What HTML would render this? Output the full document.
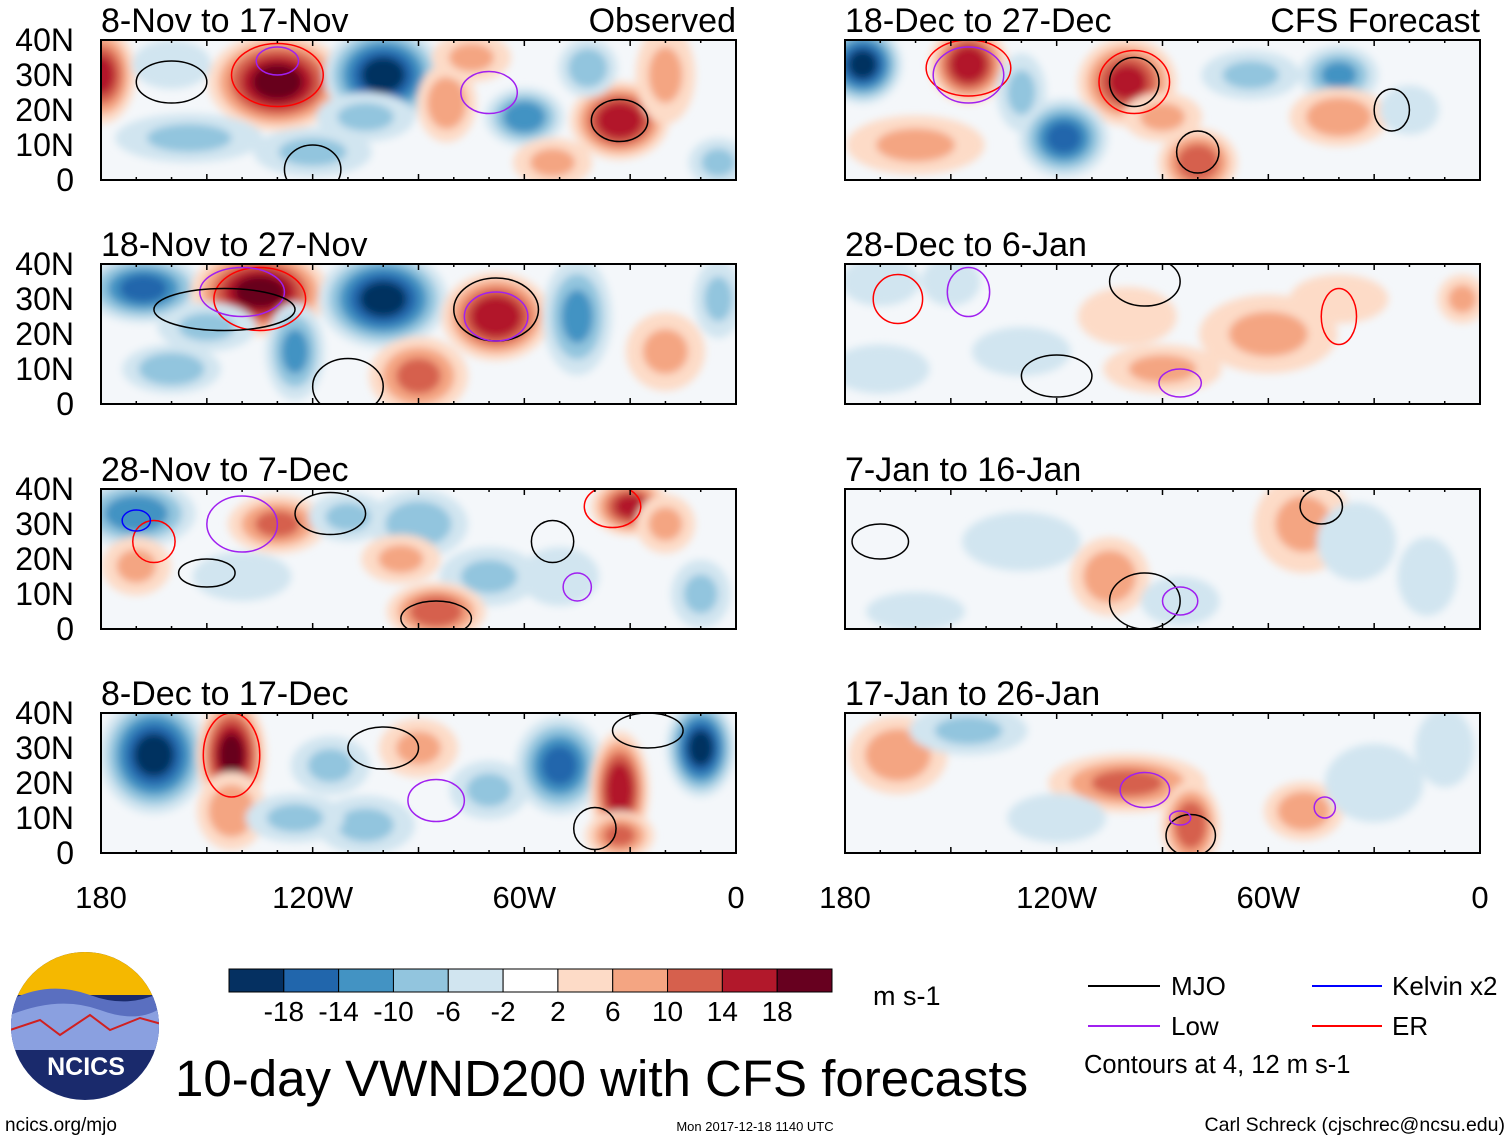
<!DOCTYPE html>
<html><head><meta charset="utf-8"><style>
body{margin:0;background:#fff;width:1510px;height:1141px;overflow:hidden;font-family:"Liberation Sans",sans-serif}
svg text{font-family:"Liberation Sans",sans-serif}
</style></head><body>
<svg id="fig" width="1510" height="1141" viewBox="0 0 1510 1141" xmlns="http://www.w3.org/2000/svg">
<defs><filter id="blur" x="-50%" y="-50%" width="200%" height="200%"><feGaussianBlur stdDeviation="4"/></filter></defs>
<g id="panels"></g>
<g id="cbar"></g>
<text x="873" y="1005" font-size="27">m s-1</text>
<g>
<line x1="1088" y1="986" x2="1160" y2="986" stroke="#000" stroke-width="2"/><text x="1171" y="995" font-size="26">MJO</text>
<line x1="1088" y1="1026" x2="1160" y2="1026" stroke="#a020f0" stroke-width="2"/><text x="1171" y="1035" font-size="26">Low</text>
<line x1="1312" y1="986" x2="1382" y2="986" stroke="#0000ff" stroke-width="2"/><text x="1392" y="995" font-size="26">Kelvin x2</text>
<line x1="1312" y1="1026" x2="1382" y2="1026" stroke="#ff0000" stroke-width="2"/><text x="1392" y="1035" font-size="26">ER</text>
<text x="1084" y="1073" font-size="25.5">Contours at 4, 12 m s-1</text>
</g>
<g>
<clipPath id="lc"><circle cx="85" cy="1026" r="74"/></clipPath>
<g clip-path="url(#lc)">
<rect x="0" y="950" width="170" height="160" fill="#1a2a6c"/>
<rect x="0" y="950" width="170" height="45" fill="#f5b800"/>
<path d="M10 1000 Q50 980 90 995 T165 990 L165 1040 L10 1040Z" fill="#5a6fc0"/>
<path d="M10 1015 Q60 995 100 1010 T165 1005 L165 1050 L10 1050Z" fill="#8aa0e0"/>
<path d="M10 1030 L40 1020 L60 1035 L90 1015 L110 1030 L140 1018 L165 1025" fill="none" stroke="#d02020" stroke-width="2"/>
</g>
<text x="86" y="1075" font-size="25" font-weight="bold" fill="#fff" text-anchor="middle">NCICS</text>
</g>
<text x="175" y="1096" font-size="51">10-day VWND200 with CFS forecasts</text>
<text x="5" y="1131" font-size="19">ncics.org/mjo</text>
<text x="755" y="1131" font-size="13" text-anchor="middle">Mon 2017-12-18 1140 UTC</text>
<text x="1505" y="1131" font-size="19.5" text-anchor="end">Carl Schreck (cjschrec@ncsu.edu)</text>
</svg>
<script>
const NS="http://www.w3.org/2000/svg";
const levels=[-18,-14,-10,-6,-2,2,6,10,14,18];
const colors=["#053061","#2166ac","#4393c3","#92c5de","#d1e5f0","#ffffff","#fddbc7","#f4a582","#d6604d","#b2182b","#67001f"];
const cbarLabels=["-18","-14","-10","-6","-2","2","6","10","14","18"];
const panelTitles=["8-Nov to 17-Nov","18-Nov to 27-Nov","28-Nov to 7-Dec","8-Dec to 17-Dec","18-Dec to 27-Dec","28-Dec to 6-Jan","7-Jan to 16-Jan","17-Jan to 26-Jan"];
const latTicks=[40,30,20,10,0];
const latLabels=["40N","30N","20N","10N","0"];
const lonTicks=[-180,-120,-60,0];
const lonLabels=["180","120W","60W","0"];
// blobs: [lon, lat, value, rxDeg, ryDeg]
const blobs0=[[-180,30,14,7,10],[-130,28,18,14,10],[-100,30,-18,12,10],[-105,18,-6,10,5],[-82,22,8,6,8],[-75,35,6,8,5],[-60,18,-12,8,6],[-33,17,16,10,8],[-42,32,-8,6,6],[-155,12,-6,15,5],[-120,8,-6,12,5],[-52,5,6,8,5],[-20,30,6,6,10],[-5,5,-6,6,5],[-160,33,-4,8,5]];
const blobs1=[[-168,33,-14,12,7],[-135,32,18,14,9],[-100,30,-18,13,10],[-68,25,16,11,9],[-45,25,-10,7,12],[-150,22,-6,10,5],[-125,15,-10,6,10],[-160,10,-8,10,5],[-90,8,10,10,8],[-20,15,6,8,8],[-5,30,-6,5,8]];
const blobs2=[[-170,33,-12,12,7],[-130,30,10,10,6],[-110,32,-6,8,5],[-90,30,-8,10,7],[-30,35,14,8,6],[-170,18,6,7,6],[-140,15,-4,10,5],[-95,20,6,8,5],[-70,15,-6,10,6],[-85,5,12,10,6],[-50,15,-4,8,6],[-10,10,-6,6,7],[-20,30,6,6,6]];
const blobs3=[[-165,28,-18,11,12],[-143,28,18,7,12],[-143,12,8,7,8],[-115,25,-6,8,6],[-105,8,-6,10,6],[-90,30,6,8,6],[-70,18,-6,8,6],[-50,25,-14,9,10],[-33,18,16,6,12],[-33,5,10,7,5],[-10,30,-18,7,10],[-125,10,-6,10,5]];
const blobs4=[[-175,33,-18,8,8],[-145,33,16,8,8],[-130,25,-6,5,8],[-100,28,14,10,9],[-118,12,-14,9,8],[-80,5,12,8,7],[-65,30,-6,10,5],[-40,30,-10,8,6],[-40,18,8,10,6],[-20,20,-4,6,5],[-160,10,6,14,6],[-90,18,6,8,5]];
const blobs5=[[-170,35,-4,8,5],[-150,35,-2,6,5],[-100,25,4,10,6],[-60,20,6,14,8],[-40,30,4,10,5],[-130,15,-2,10,5],[-90,10,6,12,5],[-5,30,6,5,5],[-170,10,-2,10,5]];
const blobs6=[[-130,25,-2,12,6],[-105,15,8,8,8],[-85,8,-2,8,5],[-50,30,6,10,10],[-160,5,-2,10,4],[-35,25,-2,8,8],[-15,15,-4,6,8]];
const blobs7=[[-165,28,8,10,8],[-145,35,-6,12,5],[-100,20,10,16,6],[-82,8,12,6,9],[-50,12,8,8,6],[-30,20,-2,10,8],[-120,10,-2,10,5],[-10,30,-4,6,8]];
const allBlobs=[blobs0,blobs1,blobs2,blobs3,blobs4,blobs5,blobs6,blobs7];
// contours: [lon, lat, rxDeg, ryDeg, type]
const cont0=[[-130,30,13,9,"er"],[-130,34,6,4,"low"],[-160,28,10,6,"mjo"],[-33,17,8,6,"mjo"],[-120,3,8,7,"mjo"],[-70,25,8,6,"low"]];
const cont1=[[-135,30,13,9,"er"],[-140,32,12,7,"low"],[-145,27,20,6,"mjo"],[-68,27,12,9,"mjo"],[-68,25,9,7,"low"],[-110,5,10,8,"mjo"]];
const cont2=[[-140,30,10,8,"low"],[-115,33,10,6,"mjo"],[-165,25,6,6,"er"],[-170,31,4,3,"kelvin"],[-150,16,8,4,"mjo"],[-52,25,6,6,"mjo"],[-85,3,10,5,"mjo"],[-35,35,8,6,"er"],[-45,12,4,4,"low"]];
const cont3=[[-143,28,8,12,"er"],[-100,30,10,6,"mjo"],[-40,7,6,6,"mjo"],[-25,35,10,5,"mjo"],[-85,15,8,6,"low"]];
const cont4=[[-145,32,12,8,"er"],[-145,30,10,8,"low"],[-98,28,10,9,"er"],[-98,28,7,7,"mjo"],[-25,20,5,6,"mjo"],[-80,8,6,6,"mjo"]];
const cont5=[[-165,30,7,7,"er"],[-145,32,6,7,"low"],[-120,8,10,6,"mjo"],[-95,35,10,7,"mjo"],[-40,25,5,8,"er"],[-85,6,6,4,"low"]];
const cont6=[[-170,25,8,5,"mjo"],[-95,8,10,8,"mjo"],[-45,35,6,5,"mjo"],[-85,8,5,4,"low"]];
const cont7=[[-95,18,7,5,"low"],[-82,5,7,6,"mjo"],[-44,13,3,3,"low"],[-85,10,3,2,"low"]];
const allCont=[cont0,cont1,cont2,cont3,cont4,cont5,cont6,cont7];
const strokeCol={mjo:"#000",low:"#a020f0",er:"#ff0000",kelvin:"#0000ff"};
const panelBox=[[101,40],[101,264],[101,489],[101,713],[845,40],[845,264],[845,489],[845,713]];
const PW=635,PH=140;
function colorOf(v){let i=0;while(i<levels.length&&v>levels[i])i++;return colors[i];}
const root=document.getElementById('panels');
function mk(tag,attrs,parent){const e=document.createElementNS(NS,tag);for(const k in attrs)e.setAttribute(k,attrs[k]);parent.appendChild(e);return e;}
panelBox.forEach((b,p)=>{
  const [x0,y0]=b;
  const xs=lon=>x0+(lon+180)/180*PW, ys=lat=>y0+PH-lat/40*PH;
  const g=mk('g',{},root);
  
  
  const clip=mk('clipPath',{id:'c'+p},g);
  mk('rect',{x:x0,y:y0,width:PW,height:PH},clip);
  const cg=mk('g',{'clip-path':'url(#c'+p+')'},g);
  mk('rect',{x:x0,y:y0,width:PW,height:PH,fill:'#f4f7fa'},cg);
  const fg=mk('g',{filter:'url(#blur)'},cg);
  allBlobs[p].forEach(bl=>{
    const [lon,lat,v,rx,ry]=bl;
    const sgn=Math.sign(v), a=Math.abs(v);
    const steps=[];
    for(let t=2;t<=a+0.1;t+=4)steps.push(t);
    steps.forEach(t=>{
      const f=1.4*(1-0.75*(t-2)/(a+1));
      const e=mk('ellipse',{cx:xs(lon),cy:ys(lat),rx:rx*PW/180*f,ry:ry*PH/40*f,fill:colorOf(sgn*(t+1))},fg);
      
      
    });
  });
  allCont[p].forEach(c=>{
    const e=mk('ellipse',{cx:xs(c[0]),cy:ys(c[1]),rx:c[2]*PW/180,ry:c[3]*PH/40,fill:'none',stroke:strokeCol[c[4]],'stroke-width':1.5},cg);
    
    
  });
  mk('rect',{x:x0,y:y0,width:PW,height:PH,fill:'none',stroke:'#000','stroke-width':2},g);
  for(let lon=-180;lon<=0;lon+=10){const L=(lon%30===0)?6:3;
    mk('line',{x1:xs(lon),y1:y0+PH,x2:xs(lon),y2:y0+PH-L,stroke:'#000','stroke-width':1.5},g);
    mk('line',{x1:xs(lon),y1:y0,x2:xs(lon),y2:y0+L,stroke:'#000','stroke-width':1.5},g);}
  const t=mk('text',{x:x0,y:y0-8,'font-size':34},g);t.textContent=panelTitles[p];
  
  if(p===0||p===4){const s=mk('text',{x:x0+PW,y:y0-8,'font-size':34,'text-anchor':'end'},g);s.textContent=p===0?'Observed':'CFS Forecast';
    }
  if(p<4){latTicks.forEach((lt,i)=>{const l=mk('text',{x:74,y:ys(lt)+11,'font-size':32,'text-anchor':'end'},g);l.textContent=latLabels[i];
    });}
  if(p===3||p===7){lonTicks.forEach((ln,i)=>{const l=mk('text',{x:xs(ln),y:908,'font-size':31,'text-anchor':'middle'},g);l.textContent=lonLabels[i];
    });}
});
const cb=document.getElementById('cbar');const bw=603/colors.length;
colors.forEach((c,i)=>{const r=mk('rect',{x:229+i*bw,y:969,width:bw,height:23,fill:c,stroke:'#000','stroke-width':1},cb);
  });
cbarLabels.forEach((s,i)=>{const t=mk('text',{x:229+(i+1)*bw,y:1021,'font-size':28,'text-anchor':'middle'},cb);t.textContent=s;
  });
</script>
</body></html>
